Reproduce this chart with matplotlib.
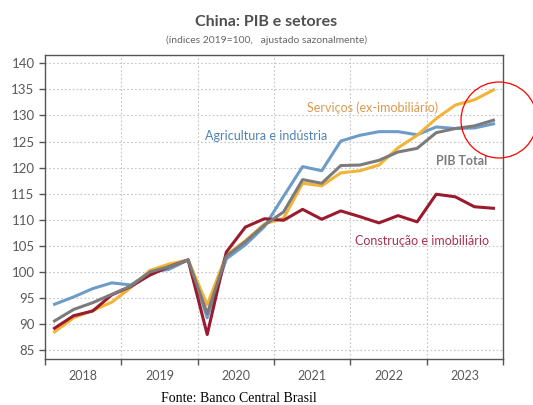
import numpy as np
import matplotlib
matplotlib.use('Agg')
import matplotlib.pyplot as plt
from matplotlib.patches import Ellipse

plt.rcParams['font.family'] = ['Lato', 'DejaVu Sans']

years = ['2018', '2019', '2020', '2021', '2022', '2023']
n_quarters = 24

agricultura = [93.8, 95.2, 96.8, 97.9, 97.5, 99.9, 100.5, 102.3, 91.2, 102.5, 105.2, 108.7,
               114.5, 120.2, 119.4, 125.1, 126.2, 126.9, 126.9, 126.3, 127.8, 127.5, 127.6, 128.4]
servicos = [88.5, 91.2, 92.6, 94.2, 97.0, 100.3, 101.5, 102.3, 93.7, 103.2, 106.0, 109.2,
            110.3, 117.0, 116.5, 119.0, 119.4, 120.5, 123.8, 126.2, 129.4, 132.0, 133.0, 134.9]
pib_total = [90.6, 92.8, 94.1, 95.7, 97.3, 100.0, 101.0, 102.3, 92.0, 103.0, 105.8, 109.0,
             111.5, 117.7, 117.0, 120.4, 120.5, 121.4, 123.0, 123.7, 126.7, 127.5, 128.0, 129.1]
construcao = [89.2, 91.6, 92.5, 95.6, 97.2, 99.4, 101.0, 102.3, 88.0, 103.8, 108.6, 110.2,
              109.9, 112.0, 110.1, 111.7, 110.6, 109.4, 110.8, 109.6, 114.9, 114.4, 112.5, 112.2]

x = np.arange(n_quarters) + 0.5

fig = plt.figure(figsize=(5.33, 4.05), dpi=100)
ax = fig.add_axes([45/533, 46/405, 458/533, 304/405])

ax.plot(x, agricultura, color='#6e9cc9', lw=2.2, zorder=3)
ax.plot(x, servicos, color='#f2b437', lw=2.2, zorder=3)
ax.plot(x, construcao, color='#9b1b2e', lw=2.2, zorder=4)
ax.plot(x, pib_total, color='#7b7b7b', lw=2.2, zorder=5)

ax.set_xlim(0, 24)
ax.set_ylim(83.3, 141.6)
ax.set_yticks(range(85, 141, 5))
ax.set_xticks(range(0, 25, 4))
ax.set_xticklabels([])
ax.set_xticks(np.arange(2, 24, 4), minor=True)
ax.set_xticklabels(years, minor=True)
ax.tick_params(axis='x', which='minor', length=0, pad=8)
ax.tick_params(axis='both', which='major', direction='out', length=4, width=1, color='#555555')
ax.tick_params(axis='y', which='major', labelsize=9.5)
ax.tick_params(axis='both', which='both', labelcolor='#595959')
ax.tick_params(axis='x', which='minor', labelsize=9)

ax.grid(True, which='major', linestyle=(0, (1.5, 2)), color='#c4c4c4', lw=0.8)
for s in ax.spines.values():
    s.set_color('#555555')
    s.set_linewidth(1.0)

ax.text(0.571, 0.825, 'Serviços (ex-imobiliário)', transform=ax.transAxes,
        color='#d99a4e', fontsize=9, ha='left', va='center')
ax.text(0.350, 0.733, 'Agricultura e indústria', transform=ax.transAxes,
        color='#4f82b0', fontsize=9, ha='left', va='center')
ax.text(0.854, 0.651, 'PIB Total', transform=ax.transAxes,
        color='#7b7b7b', fontsize=9, fontweight='bold', ha='left', va='center')
ax.text(0.677, 0.388, 'Construção e imobiliário', transform=ax.transAxes,
        color='#a83050', fontsize=9, ha='left', va='center')

fig.text(0.5, 1 - 22/405, 'China: PIB e setores', ha='center', va='center',
         fontsize=11.5, fontweight='bold', color='#4f4f4f')
fig.text(0.5, 1 - 40/405, '(índices 2019=100,   ajustado sazonalmente)', ha='center',
         va='center', fontsize=7.5, color='#666666')
fig.text(239/533, 1 - 398/405, 'Fonte: Banco Central Brasil', ha='center', va='center',
         fontsize=10, color='black', family='Liberation Serif')

circle = Ellipse((499/533, 1 - 120/405), 76/533, 76/405, transform=fig.transFigure,
                 fill=False, edgecolor='red', lw=0.9)
fig.patches.append(circle)

fig.savefig('out.png', dpi=100)
